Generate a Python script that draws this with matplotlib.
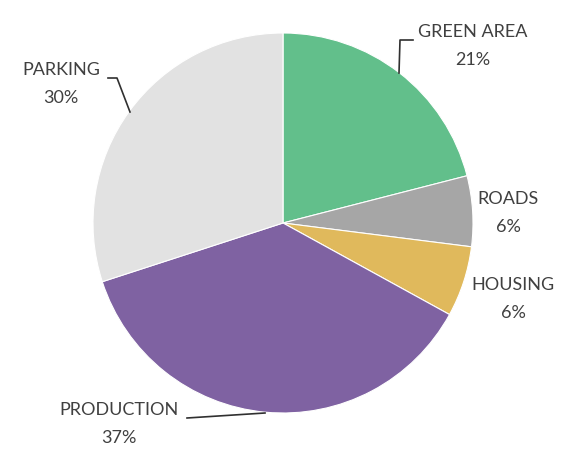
"""
Pie chart of site land use
"""
import matplotlib.pyplot as plt

# data
labels = ['GREEN AREA', 'ROADS', 'HOUSING', 'PRODUCTION', 'PARKING']
values = [21, 6, 6, 37, 30]
colors = ['#62BF8B', '#A6A6A6', '#E0B95C', '#7F62A2', '#E2E2E2']

W, H = 576, 451

fig = plt.figure(figsize=(W / 100, H / 100), dpi=100)
ax = fig.add_axes([0, 0, 1, 1])
ax.set_xlim(0, W)
ax.set_ylim(0, H)
ax.set_aspect('equal')
ax.axis('off')

# pie in pixel coordinates (y measured from the bottom)
cx, cy, r = 283, H - 223, 190
ax.pie(values, colors=colors, startangle=90, counterclock=False,
       center=(cx, cy), radius=r, frame=True,
       wedgeprops=dict(edgecolor='white', linewidth=0.8))
ax.set_xlim(0, W)
ax.set_ylim(0, H)
ax.axis('off')

# label positions (pixel, from top) and leader lines
label_pos = [(473, 32), (508, 199), (513, 285), (119, 410), (61, 70)]
leaders = [
    [(399, 73), (400, 40), (413, 40)],
    None,
    None,
    [(187, 418), (265, 413)],
    [(108, 78), (117, 78), (130, 112)],
]

txt_color = '#404040'
for name, val, (x, y), line in zip(labels, values, label_pos, leaders):
    ax.text(x, H - y, name, ha='center', va='center', fontsize=13,
            family='Lato', color=txt_color)
    ax.text(x, H - y - 28, f'{val}%', ha='center', va='center', fontsize=13,
            family='Lato', color=txt_color)
    if line:
        ax.plot([p[0] for p in line], [H - p[1] for p in line],
                color='#303030', linewidth=1.2)

plt.savefig('out.png', dpi=100)
